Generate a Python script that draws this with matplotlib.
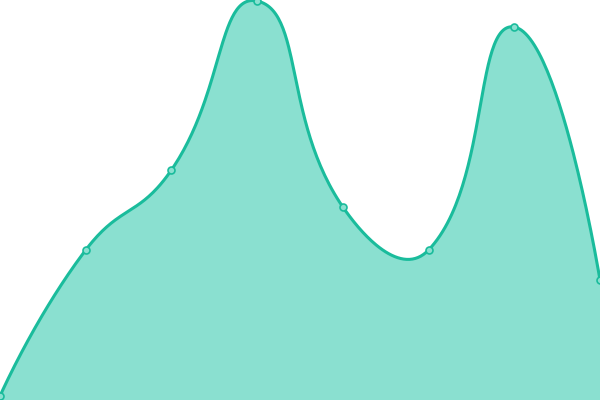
import numpy as np
import matplotlib
matplotlib.use("Agg")
import matplotlib.pyplot as plt

categories = ["A", "B", "C", "D", "E", "F", "G", "H"]
values = [4, 150, 230, 399, 193, 150, 373, 120]

LINE = "#1abc9c"
FILL = "#8ae0d0"

W, H = 600, 400
fig = plt.figure(figsize=(6, 4), dpi=100)
ax = fig.add_axes([0, 0, 1, 1])
n = len(values)
ax.set_xlim(0, n - 1)
ax.set_ylim(0, 400)
ax.axis("off")

# smoothing in pixel space (bezier, cardinal-like)
xs = np.arange(n, dtype=float)
px = xs * W / (n - 1)
py = np.array(values, dtype=float)
smooth = 0.5

cps = []
for i in range(n):
    x, y = px[i], py[i]
    if i == 0 or i == n - 1:
        cps.append(((x, y), (x, y)))
        continue
    pxv, pyv = px[i - 1], py[i - 1]
    nx, ny = px[i + 1], py[i + 1]
    vx, vy = (nx - pxv) * smooth, (ny - pyv) * smooth
    d0 = np.hypot(x - pxv, y - pyv)
    d1 = np.hypot(nx - x, ny - y)
    s = d0 + d1
    cps.append(((x - vx * d0 / s, y - vy * d0 / s),
                (x + vx * d1 / s, y + vy * d1 / s)))

cx, cy = [], []
t = np.linspace(0, 1, 60)
for i in range(n - 1):
    p0 = np.array([px[i], py[i]])
    p1 = np.array(cps[i][1])
    p2 = np.array(cps[i + 1][0])
    p3 = np.array([px[i + 1], py[i + 1]])
    b = ((1 - t) ** 3)[:, None] * p0 + (3 * (1 - t) ** 2 * t)[:, None] * p1 \
        + (3 * (1 - t) * t ** 2)[:, None] * p2 + (t ** 3)[:, None] * p3
    cx.extend(b[:, 0]); cy.extend(b[:, 1])
cx = np.array(cx) * (n - 1) / W
cy = np.array(cy)

ax.fill_between(cx, 0, cy, color=FILL, linewidth=0)
ax.plot(cx, cy, color=LINE, linewidth=2.2, solid_capstyle="round")
ax.plot(xs, values, linestyle="none", marker="o", markersize=5,
        markerfacecolor=FILL, markeredgecolor=LINE, markeredgewidth=1.2)

fig.savefig("out.png", dpi=100)
